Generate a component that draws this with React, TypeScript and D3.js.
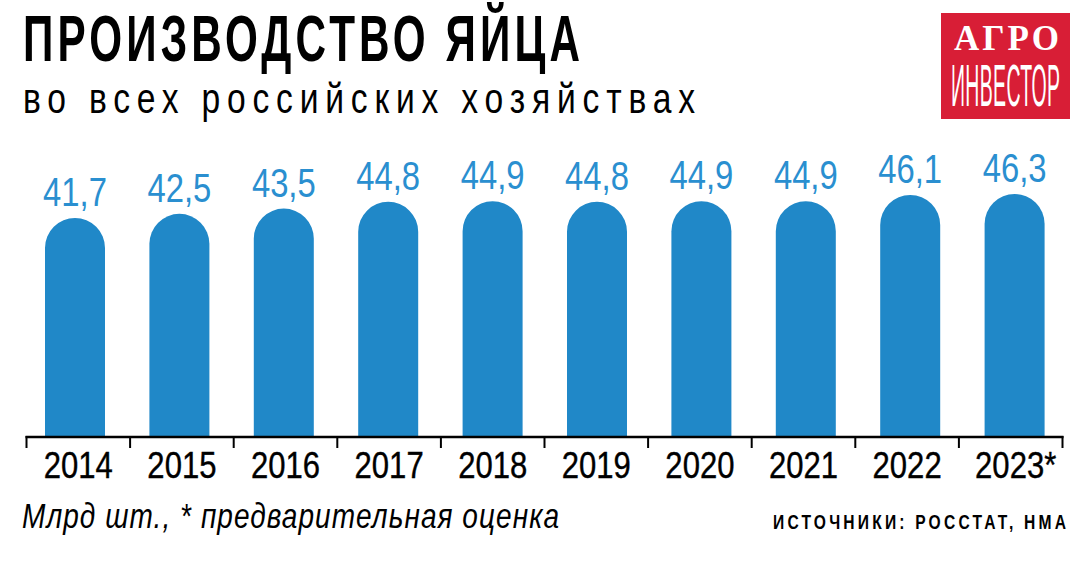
import React from "react";
import * as d3 from "d3";

const years = ["2014", "2015", "2016", "2017", "2018", "2019", "2020", "2021", "2022", "2023*"];
const values = [41.7, 42.5, 43.5, 44.8, 44.9, 44.8, 44.9, 44.9, 46.1, 46.3];
const valueLabels = ["41,7", "42,5", "43,5", "44,8", "44,9", "44,8", "44,9", "44,9", "46,1", "46,3"];

const W = 1087;
const H = 570;
const SANS = "'Liberation Sans', Arial, sans-serif";
const BLUE = "#2088c8";
const LABEL_BLUE = "#2a8fd0";

type NTProps = {
  x: number;
  y: number;
  sx: number;
  size: number;
  len?: number;
  anchor?: "start" | "middle" | "end";
  weight?: string;
  italic?: boolean;
  fill?: string;
  family?: string;
  stroke?: number;
  children: string;
};

function NText({ x, y, sx, size, len, anchor = "start", weight = "normal", italic = false, fill = "#000", family = SANS, stroke, children }: NTProps) {
  return (
    <g transform={`translate(${x},${y}) scale(${sx},1)`}>
      <text
        x={0}
        y={0}
        textAnchor={anchor}
        fontFamily={family}
        fontSize={size}
        fontWeight={weight}
        fontStyle={italic ? "italic" : "normal"}
        fill={fill}
        stroke={stroke ? fill : undefined}
        strokeWidth={stroke}
        textLength={len ? len / sx : undefined}
        lengthAdjust={len ? "spacing" : undefined}
      >
        {children}
      </text>
    </g>
  );
}

export default function App() {
  const baseY = 436;
  const axisX = d3.scaleBand<string>().domain(years).range([26.5, 1062.5]);
  const barX = d3.scaleBand<string>().domain(years).range([22.8, 1066.8]);
  const y = d3.scaleLinear().domain([0, 46.3]).range([baseY, 194]);
  const bw = 60;
  const r = bw / 2;

  const barPath = (v: number, cx: number) => {
    const top = y(v);
    const p = d3.path();
    p.moveTo(cx - r, baseY);
    p.lineTo(cx - r, top + r);
    p.arc(cx, top + r, r, Math.PI, 0, false);
    p.lineTo(cx + r, baseY);
    p.closePath();
    return p.toString();
  };

  const tickXs = [...years.map((d) => axisX(d)!), axisX.range()[1]];

  return (
    <svg width={W} height={H} style={{ position: "absolute", left: 0, top: 0, background: "#fff" }}>
      <NText x={23} y={61} sx={0.66} size={64} weight="bold" len={557}>
        ПРОИЗВОДСТВО ЯЙЦА
      </NText>
      <NText x={23} y={113} sx={0.8} size={42} len={672}>
        во всех российских хозяйствах
      </NText>

      <rect x={941} y={13} width={129} height={106} fill="#d81e36" />
      <NText x={954} y={50} sx={1.0} size={35} weight="bold" family="'Liberation Serif', 'DejaVu Serif', serif" fill="#fff" len={105}>
        АГРО
      </NText>
      <NText x={951} y={106} sx={0.33} size={59} fill="#fff" len={109}>
        ИНВЕСТОР
      </NText>

      {years.map((d, i) => {
        const cx = barX(d)! + barX.bandwidth() / 2;
        return (
          <g key={d}>
            <path d={barPath(values[i], cx)} fill={BLUE} />
            <NText x={cx} y={y(values[i]) - 12} sx={0.8} size={41} anchor="middle" fill={LABEL_BLUE}>
              {valueLabels[i]}
            </NText>
          </g>
        );
      })}

      <line x1={axisX.range()[0] - 1} x2={axisX.range()[1] + 1} y1={baseY + 1} y2={baseY + 1} stroke="#000" strokeWidth={2.5} />
      {tickXs.map((tx, i) => (
        <line key={i} x1={tx} x2={tx} y1={baseY} y2={448} stroke="#000" strokeWidth={2} />
      ))}
      {years.map((d) => (
        <NText key={d} x={axisX(d)! + axisX.bandwidth() / 2 + (d.endsWith("*") ? 5 : 0)} y={478} sx={0.84} size={37} anchor="middle" stroke={0.4}>
          {d}
        </NText>
      ))}

      <NText x={22} y={528} sx={0.8} size={35} italic len={537}>
        Млрд шт., * предварительная оценка
      </NText>
      <NText x={1066} y={529} sx={0.78} size={20} weight="bold" anchor="end" len={293}>
        ИСТОЧНИКИ: РОССТАТ, НМА
      </NText>
    </svg>
  );
}
